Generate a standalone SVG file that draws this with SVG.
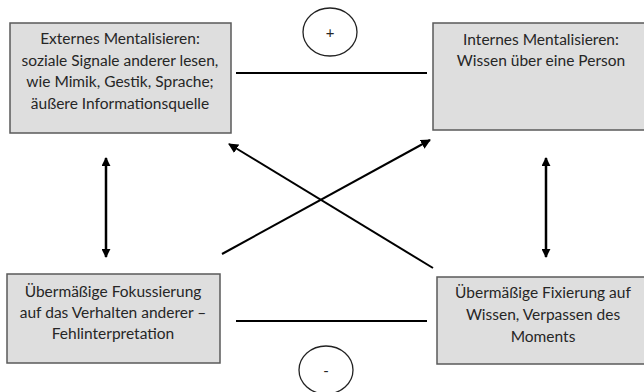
<svg xmlns="http://www.w3.org/2000/svg" width="644" height="392" viewBox="0 0 644 392">
<style>
.box{fill:#dedede;stroke:#5a5a5a;stroke-width:1.5}
.t{font-family:Lato,"Open Sans",sans-serif;font-size:15.5px;fill:#262626;text-anchor:middle}
.ln{stroke:#000;stroke-width:2;fill:none}
.ar{stroke:#000;stroke-width:2;fill:none;marker-end:url(#ah)}
.da{stroke:#000;stroke-width:2.5;fill:none;marker-end:url(#ah2);marker-start:url(#ahs)}
.c{fill:#fff;stroke:#222;stroke-width:1.3}
</style>
<defs>
<marker id="ah" viewBox="0 0 10 10" refX="9" refY="5" markerWidth="5" markerHeight="5" orient="auto" markerUnits="strokeWidth"><path d="M0,0 L10,5 L0,10 z" fill="#000"/></marker>
<marker id="ah2" viewBox="0 0 10 10" refX="9" refY="5" markerWidth="3.6" markerHeight="3.6" orient="auto" markerUnits="strokeWidth"><path d="M0,0 L10,5 L0,10 z" fill="#000"/></marker>
<marker id="ahs" viewBox="0 0 10 10" refX="1" refY="5" markerWidth="3.6" markerHeight="3.6" orient="auto" markerUnits="strokeWidth"><path d="M10,0 L0,5 L10,10 z" fill="#000"/></marker>
</defs>
<g id="node-ext">
<rect class="box" x="10" y="23" width="221" height="110"/>
<text class="t" x="120" y="44">Externes Mentalisieren:</text>
<text class="t" x="120" y="66">soziale Signale anderer lesen,</text>
<text class="t" x="120" y="87">wie Mimik, Gestik, Sprache;</text>
<text class="t" x="120" y="109">äußere Informationsquelle</text>
</g>
<g id="node-int">
<rect class="box" x="433" y="23" width="215" height="107"/>
<text class="t" x="541" y="45">Internes Mentalisieren:</text>
<text class="t" x="541" y="66">Wissen über eine Person</text>
</g>
<g id="node-fok">
<rect class="box" x="7" y="274" width="213" height="89"/>
<text class="t" x="113" y="297">Übermäßige Fokussierung</text>
<text class="t" x="113" y="318">auf das Verhalten anderer –</text>
<text class="t" x="113" y="339">Fehlinterpretation</text>
</g>
<g id="node-fix">
<rect class="box" x="437" y="277" width="211" height="87"/>
<text class="t" x="543" y="298">Übermäßige Fixierung auf</text>
<text class="t" x="543" y="320">Wissen, Verpassen des</text>
<text class="t" x="543" y="342">Moments</text>
</g>
<g id="node-plus">
<ellipse class="c" cx="330" cy="32" rx="27" ry="24"/>
<text class="t" x="330" y="38" style="font-size:15px">+</text>
</g>
<g id="node-minus">
<ellipse class="c" cx="326" cy="370" rx="27" ry="24"/>
<text class="t" x="326" y="376" style="font-size:15px">-</text>
</g>
<g id="connectors">
<line class="ln" x1="236" y1="73" x2="427" y2="73"/>
<line class="ln" x1="236" y1="321" x2="427" y2="321"/>
<line class="ar" x1="222" y1="254" x2="430" y2="140"/>
<line class="ar" x1="433" y1="268" x2="229" y2="144"/>
<line class="da" x1="106" y1="158" x2="106" y2="257"/>
<line class="da" x1="546" y1="158" x2="546" y2="257"/>
</g>
</svg>
